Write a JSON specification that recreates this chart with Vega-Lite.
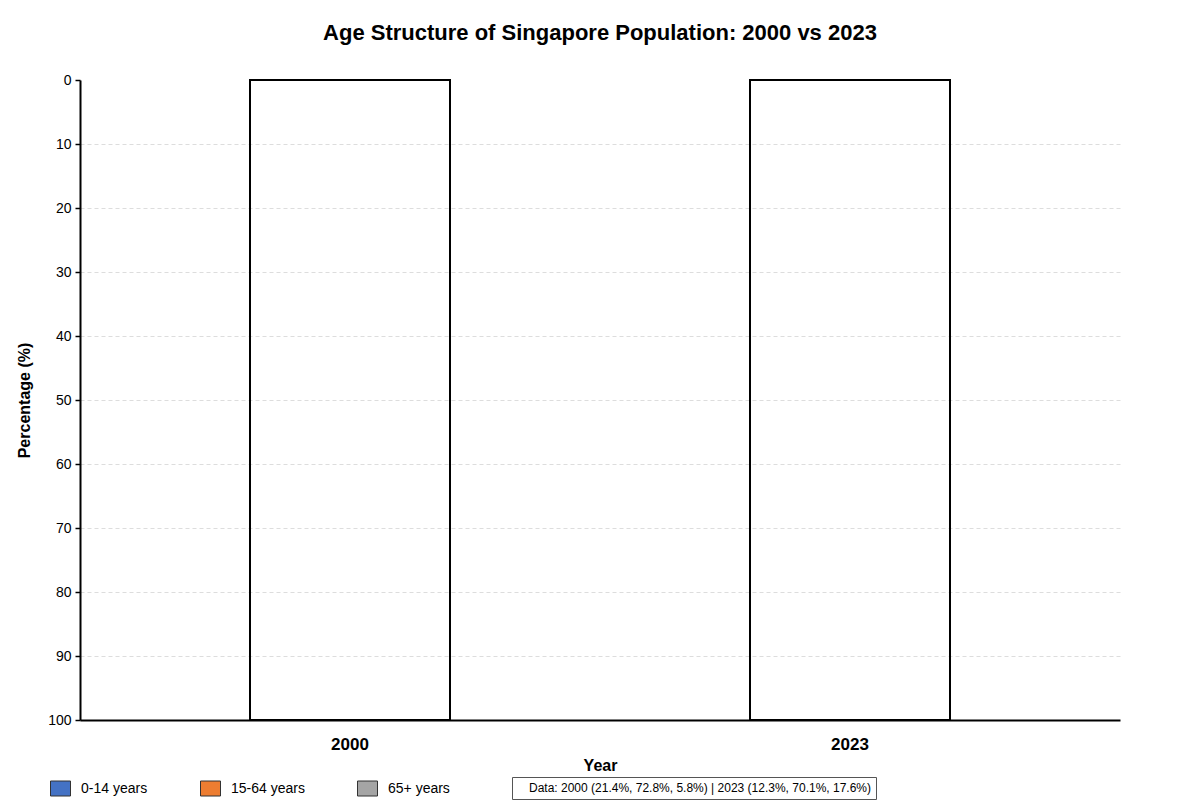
{
  "$schema": "https://vega.github.io/schema/vega-lite/v6.json",
  "description": "Age structure of Singapore population, 2000 vs 2023.",
  "width": 1040,
  "height": 640,
  "autosize": "none",
  "padding": {"left": 80, "top": 80, "right": 80, "bottom": 80},
  "background": "white",
  "config": {"font": "Liberation Sans", "view": {"stroke": null}},
  "title": {
    "text": "Age Structure of Singapore Population: 2000 vs 2023",
    "fontSize": 22,
    "fontWeight": "bold",
    "color": "black",
    "anchor": "middle",
    "offset": 28
  },
  "datasets": {
    "population": [
      {"year": "2000", "age": "0-14 years", "value": 21.4},
      {"year": "2000", "age": "15-64 years", "value": 72.8},
      {"year": "2000", "age": "65+ years", "value": 5.8},
      {"year": "2023", "age": "0-14 years", "value": 12.3},
      {"year": "2023", "age": "15-64 years", "value": 70.1},
      {"year": "2023", "age": "65+ years", "value": 17.6}
    ],
    "note": [
      {"note": "Data: 2000 (21.4%, 72.8%, 5.8%) | 2023 (12.3%, 70.1%, 17.6%)"}
    ]
  },
  "layer": [
    {
      "data": {"name": "population"},
      "mark": {"type": "bar", "width": {"band": 0.4}, "opacity": 0},
      "encoding": {
        "x": {
          "field": "year",
          "type": "nominal",
          "scale": {"paddingInner": 0, "paddingOuter": 0.04},
          "axis": {
            "title": "Year",
            "labelAngle": 0,
            "labelFontSize": 17,
            "labelFontWeight": "bold",
            "labelColor": "black",
            "labelPadding": 16,
            "ticks": false,
            "domainColor": "black",
            "domainWidth": 2,
            "titleFontSize": 16,
            "titleFontWeight": "bold",
            "titleColor": "black",
            "titlePadding": 5,
            "grid": false
          }
        },
        "y": {
          "field": "value",
          "type": "quantitative",
          "aggregate": "sum",
          "stack": "zero",
          "scale": {"domain": [0, 100], "reverse": true, "nice": false},
          "axis": {
            "title": "Percentage (%)",
            "values": [0, 10, 20, 30, 40, 50, 60, 70, 80, 90, 100],
            "labelFontSize": 14,
            "labelColor": "black",
            "labelPadding": 4,
            "tickColor": "black",
            "tickSize": 5,
            "tickWidth": 1.5,
            "domainColor": "black",
            "domainWidth": 2,
            "titleFontSize": 16,
            "titleFontWeight": "bold",
            "titleColor": "black",
            "titlePadding": 15,
            "grid": true,
            "gridColor": "#dddddd",
            "gridDash": [4, 3],
            "gridWidth": 1,
            "gridOpacity": {
              "condition": {"test": "datum.value == 0 || datum.value == 100", "value": 0},
              "value": 1
            }
          }
        },
        "color": {
          "field": "age",
          "type": "nominal",
          "scale": {
            "domain": ["0-14 years", "15-64 years", "65+ years"],
            "range": ["#4472C4", "#ED7D31", "#A5A5A5"]
          },
          "legend": {
            "title": null,
            "orient": "none",
            "legendX": -30,
            "legendY": 698,
            "direction": "horizontal",
            "symbolType": "M-1,-0.75L1,-0.75L1,0.75L-1,0.75Z",
            "symbolSize": 400,
            "symbolOpacity": 1,
            "symbolStrokeColor": "#333333",
            "symbolStrokeWidth": 1,
            "labelFontSize": 14,
            "labelColor": "black",
            "labelOffset": 10,
            "columnPadding": 50,
            "padding": 0
          }
        }
      }
    },
    {
      "data": {"name": "population"},
      "mark": {
        "type": "bar",
        "width": {"band": 0.4},
        "fill": "transparent",
        "stroke": "black",
        "strokeWidth": 2
      },
      "encoding": {
        "x": {"field": "year", "type": "nominal"},
        "y": {"field": "value", "type": "quantitative", "aggregate": "sum"}
      }
    },
    {
      "data": {"name": "note"},
      "mark": {"type": "point", "opacity": 0},
      "encoding": {
        "shape": {
          "field": "note",
          "type": "nominal",
          "legend": {
            "title": null,
            "orient": "none",
            "legendX": 432,
            "legendY": 697,
            "symbolSize": 0,
            "symbolOpacity": 0,
            "labelOffset": 0,
            "labelFontSize": 12,
            "labelColor": "black",
            "labelLimit": 600,
            "strokeColor": "#555555",
            "padding": 5
          }
        }
      }
    }
  ]
}
